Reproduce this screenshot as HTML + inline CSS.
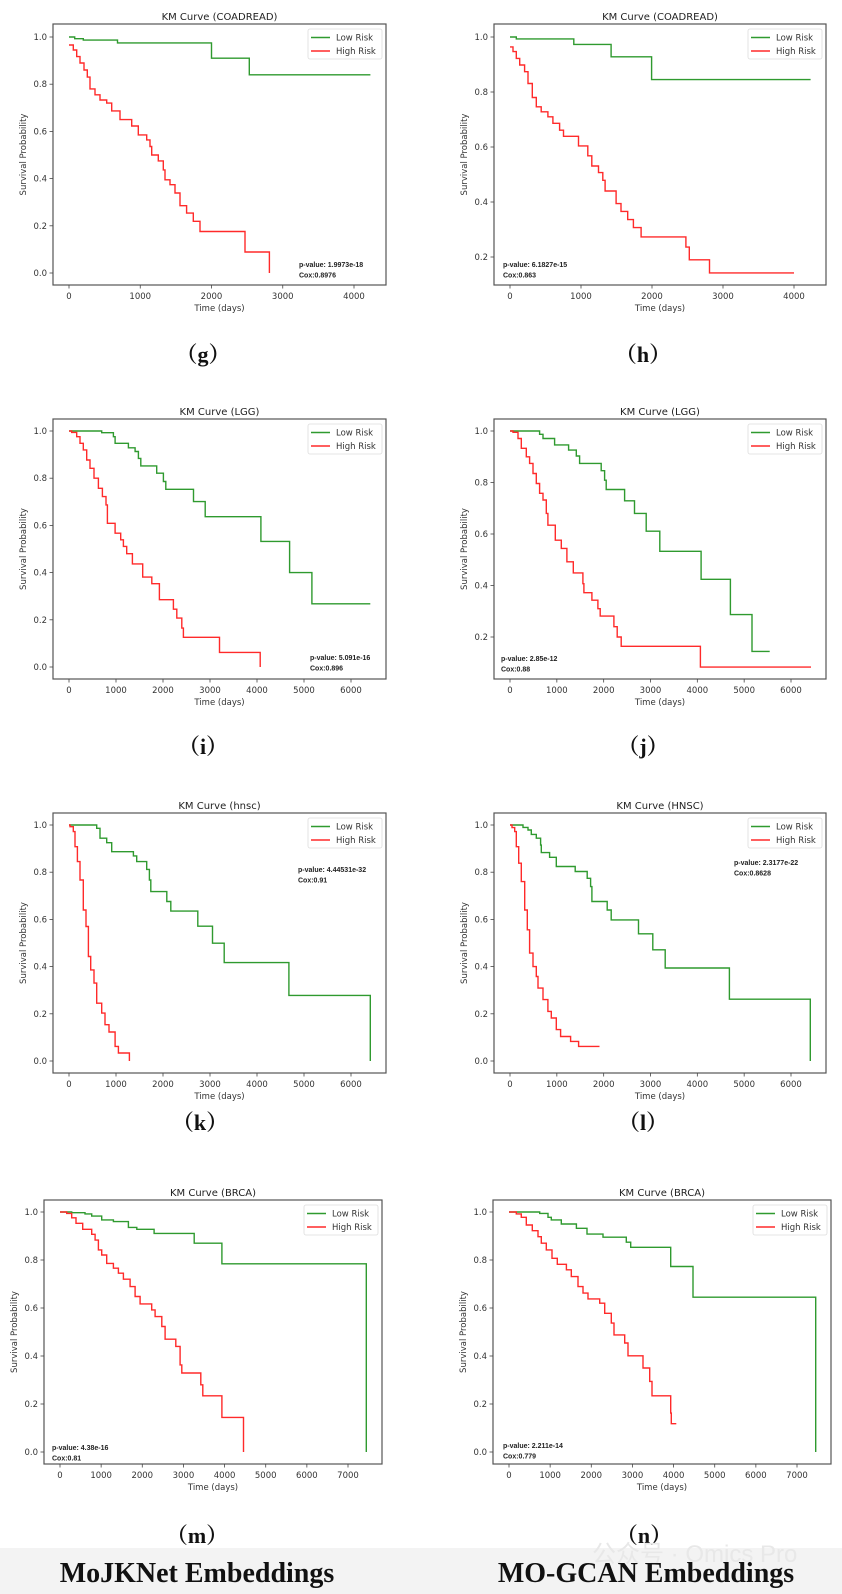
<!DOCTYPE html>
<html><head><meta charset="utf-8">
<style>
html,body{margin:0;padding:0;background:#fff;}
svg{display:block;}
</style></head>
<body>
<svg id="fig" width="842" height="1594" viewBox="0 0 842 1594" xmlns="http://www.w3.org/2000/svg">
<rect x="0" y="0" width="842" height="1594" fill="#ffffff"/>
<rect x="0" y="1548" width="842" height="46" fill="#f3f3f3"/>
<g id="panels"></g>
<text x="197" y="1582" text-anchor="middle" font-family="Liberation Serif, serif" font-weight="bold" font-size="28" fill="#111">MoJKNet Embeddings</text>
<text x="592" y="1562" font-family="Liberation Sans, Noto Sans CJK SC, sans-serif" font-size="24" fill="#e8e8e8">公众号 · Omics Pro</text>
<text x="646" y="1582" text-anchor="middle" font-family="Liberation Serif, serif" font-weight="bold" font-size="28" fill="#111">MO-GCAN Embeddings</text>
</svg>
<script>
// ---- data: step times (days) and survival values ----
const gLowT  = [0,80,200,680,2000,2530,4230];
const gLowS  = [1.0,0.993,0.987,0.975,0.91,0.84,0.84];
const gHighT = [0,61,108,154,211,257,295,365,435,529,599,716,880,973,1090,1137,1160,1254,1324,1347,1418,1488,1558,1651,1745,1839,2470,2812];
const gHighS = [0.966,0.945,0.917,0.89,0.86,0.83,0.78,0.755,0.733,0.72,0.687,0.65,0.623,0.585,0.564,0.536,0.5,0.475,0.437,0.395,0.374,0.339,0.285,0.254,0.219,0.176,0.089,0];

const hLowT  = [0,89,899,1424,1995,4234];
const hLowS  = [1.0,0.993,0.973,0.928,0.845,0.845];
const hHighT = [0,42,89,136,206,253,314,370,440,534,604,698,754,965,1096,1152,1246,1307,1340,1494,1564,1658,1738,1846,2478,2525,2810,4000];
const hHighS = [0.964,0.947,0.922,0.898,0.874,0.831,0.78,0.746,0.728,0.71,0.686,0.661,0.639,0.604,0.568,0.531,0.507,0.479,0.44,0.394,0.366,0.336,0.307,0.273,0.236,0.19,0.142,0.142];

const iLowT  = [0,696,944,980,1264,1406,1477,1527,1867,2009,2059,2648,2897,4083,4693,5169,6411];
const iLowS  = [1.0,0.993,0.976,0.948,0.929,0.913,0.884,0.852,0.821,0.786,0.753,0.701,0.637,0.532,0.4,0.268,0.268];
const iHighT = [0,57,163,234,305,376,447,532,625,710,788,816,980,1100,1157,1228,1349,1569,1761,1924,2222,2293,2400,2435,3202,4068];
const iHighS = [1.0,0.994,0.976,0.948,0.92,0.877,0.842,0.8,0.757,0.722,0.687,0.609,0.567,0.539,0.511,0.48,0.437,0.381,0.353,0.285,0.245,0.207,0.165,0.126,0.062,0];

const jLowT  = [0,633,704,953,1251,1415,1486,1948,2019,2055,2446,2659,2908,3199,4081,4706,5168,5545];
const jLowS  = [1.0,0.987,0.971,0.946,0.926,0.903,0.874,0.846,0.809,0.773,0.729,0.68,0.611,0.533,0.424,0.287,0.144,0.144];
const jHighT = [0,64,171,242,348,419,491,562,633,704,775,810,967,1095,1216,1351,1557,1578,1749,1877,1927,2218,2289,2374,4066,6427];
const jHighS = [1.0,0.995,0.971,0.933,0.9,0.874,0.835,0.796,0.758,0.732,0.68,0.634,0.576,0.544,0.492,0.449,0.407,0.372,0.343,0.31,0.281,0.24,0.2,0.164,0.083,0.083];

const kLowT  = [0,589,660,802,909,1370,1441,1654,1711,1740,2080,2166,2741,3053,3302,4679,6411];
const kLowS  = [1.0,0.986,0.944,0.925,0.887,0.869,0.845,0.812,0.767,0.718,0.676,0.635,0.571,0.499,0.417,0.278,0];
const kHighT = [0,21,92,128,178,234,305,362,412,461,532,589,696,767,852,980,1051,1285];
const kHighS = [1.0,0.993,0.972,0.908,0.845,0.767,0.64,0.57,0.443,0.386,0.33,0.245,0.203,0.154,0.123,0.062,0.034,0];

const lLowT  = [0,277,384,455,562,654,668,846,988,1393,1649,1720,1749,2076,2161,2744,3050,3313,4685,6412];
const lLowS  = [1.0,0.99,0.979,0.96,0.944,0.915,0.883,0.863,0.824,0.803,0.774,0.739,0.676,0.64,0.598,0.539,0.471,0.394,0.262,0];
const lHighT = [0,43,100,135,185,242,313,370,419,491,562,597,704,810,882,988,1081,1294,1464,1912];
const lHighS = [1.0,0.989,0.972,0.908,0.838,0.76,0.64,0.556,0.457,0.4,0.358,0.309,0.26,0.21,0.182,0.133,0.104,0.083,0.062,0.062];

const mLowT  = [0,284,608,770,1014,1298,1663,1866,2287,3261,3934,7446];
const mLowS  = [1.0,0.997,0.992,0.983,0.967,0.96,0.936,0.928,0.911,0.87,0.784,0];
const mHighT = [0,162,284,389,552,770,852,933,1014,1136,1298,1419,1541,1703,1825,1947,2230,2312,2474,2555,2815,2920,2961,3423,3472,3934,4461];
const mHighS = [1.0,0.994,0.976,0.953,0.928,0.907,0.883,0.842,0.821,0.786,0.766,0.745,0.72,0.689,0.648,0.617,0.592,0.564,0.523,0.47,0.44,0.363,0.329,0.28,0.234,0.144,0];

const nLowT  = [0,745,948,1029,1272,1637,1896,2285,2852,2957,3929,4472,7454];
const nLowS  = [1.0,0.994,0.978,0.967,0.95,0.932,0.908,0.895,0.874,0.853,0.773,0.645,0];
const nHighT = [0,178,300,421,567,705,786,907,1045,1175,1394,1515,1677,1799,1920,2204,2325,2487,2552,2811,2892,3257,3419,3475,3929,3945,4067];
const nHighS = [1.0,0.992,0.978,0.946,0.922,0.897,0.87,0.842,0.807,0.782,0.759,0.731,0.689,0.662,0.638,0.62,0.578,0.537,0.488,0.454,0.401,0.35,0.294,0.234,0.162,0.118,0.118];

const xTicks4000 = [0,1000,2000,3000,4000];
const xTicks6000 = [0,1000,2000,3000,4000,5000,6000];
const xTicks7000 = [0,1000,2000,3000,4000,5000,6000,7000];
const yTicksFull = [0,0.2,0.4,0.6,0.8,1.0];
const yTicksUpper = [0.2,0.4,0.6,0.8,1.0];

const pValues = ['1.9973e-18','6.1827e-15','5.091e-16','2.85e-12','4.44531e-32','2.3177e-22','4.38e-16','2.211e-14'];
const coxValues = ['0.8976','0.863','0.896','0.88','0.91','0.8628','0.81','0.779'];

// ---- layout (geometry) ----
const panels = [
 {id:'g',title:'KM Curve (COADREAD)',L:53,T:24,R:386,B:285,x0:69,xm:354,xmax:4000,y1:37,y0:273,xt:xTicks4000,yt:yTicksFull,low:[gLowT,gLowS],high:[gHighT,gHighS],sx:299,sy:267,lab:'g',lx:203,ly:362},
 {id:'h',title:'KM Curve (COADREAD)',L:494,T:24,R:826,B:285,x0:510,xm:794,xmax:4000,y1:37,y0:312,xt:xTicks4000,yt:yTicksUpper,low:[hLowT,hLowS],high:[hHighT,hHighS],sx:503,sy:267,lab:'h',lx:643,ly:362},
 {id:'i',title:'KM Curve (LGG)',L:53,T:419,R:386,B:679,x0:69,xm:351,xmax:6000,y1:431,y0:667,xt:xTicks6000,yt:yTicksFull,low:[iLowT,iLowS],high:[iHighT,iHighS],sx:310,sy:660,lab:'i',lx:203,ly:754},
 {id:'j',title:'KM Curve (LGG)',L:494,T:419,R:826,B:679,x0:510,xm:791,xmax:6000,y1:431,y0:688.5,xt:xTicks6000,yt:yTicksUpper,low:[jLowT,jLowS],high:[jHighT,jHighS],sx:501,sy:661,lab:'j',lx:643,ly:754},
 {id:'k',title:'KM Curve (hnsc)',L:53,T:813,R:386,B:1073,x0:69,xm:351,xmax:6000,y1:825,y0:1061,xt:xTicks6000,yt:yTicksFull,low:[kLowT,kLowS],high:[kHighT,kHighS],sx:298,sy:872,lab:'k',lx:200,ly:1130},
 {id:'l',title:'KM Curve (HNSC)',L:494,T:813,R:826,B:1073,x0:510,xm:791,xmax:6000,y1:825,y0:1061,xt:xTicks6000,yt:yTicksFull,low:[lLowT,lLowS],high:[lHighT,lHighS],sx:734,sy:865,lab:'l',lx:643,ly:1130},
 {id:'m',title:'KM Curve (BRCA)',L:44,T:1200,R:382,B:1464,x0:60,xm:348,xmax:7000,y1:1212,y0:1452,xt:xTicks7000,yt:yTicksFull,low:[mLowT,mLowS],high:[mHighT,mHighS],sx:52,sy:1450,lab:'m',lx:197,ly:1543},
 {id:'n',title:'KM Curve (BRCA)',L:493,T:1200,R:831,B:1464,x0:509,xm:797,xmax:7000,y1:1212,y0:1452,xt:xTicks7000,yt:yTicksFull,low:[nLowT,nLowS],high:[nHighT,nHighS],sx:503,sy:1448,lab:'n',lx:644,ly:1543}
];

const NS='http://www.w3.org/2000/svg';
const root=document.getElementById('panels');
function mk(tag,attrs,parent){const e=document.createElementNS(NS,tag);for(const k in attrs)e.setAttribute(k,attrs[k]);parent.appendChild(e);return e;}
const SANS='DejaVu Sans, Liberation Sans, sans-serif';

panels.forEach((p,idx)=>{
  const g=mk('g',{},root);
  
  
  const xS=t=>p.x0+t*(p.xm-p.x0)/p.xmax;
  const yS=s=>p.y0+s*(p.y1-p.y0);
  const fr=mk('rect',{x:p.L,y:p.T,width:p.R-p.L,height:p.B-p.T,fill:'none',stroke:'#555',"stroke-width":1.2},g);
  
  
  const tt=mk('text',{x:(p.L+p.R)/2,y:p.T-4,'text-anchor':'middle','font-family':SANS,'font-size':10,fill:'#222'},g);
  tt.textContent=p.title;
  
  
  p.xt.forEach(v=>{
    const x=xS(v);
    mk('line',{x1:x,x2:x,y1:p.B,y2:p.B+3.5,stroke:'#444','stroke-width':0.8},g);
    const t=mk('text',{x:x,y:p.B+14,'text-anchor':'middle','font-family':SANS,'font-size':8.5,fill:'#333'},g);
    t.textContent=String(v);
    
    
  });
  p.yt.forEach(v=>{
    const y=yS(v);
    mk('line',{x1:p.L-3.5,x2:p.L,y1:y,y2:y,stroke:'#444','stroke-width':0.8},g);
    const t=mk('text',{x:p.L-6,y:y+3,'text-anchor':'end','font-family':SANS,'font-size':8.5,fill:'#333'},g);
    t.textContent=v.toFixed(1);
    
    
  });
  const xl=mk('text',{x:(p.L+p.R)/2,y:p.B+26,'text-anchor':'middle','font-family':SANS,'font-size':8.5,fill:'#333'},g);
  xl.textContent='Time (days)';
  
  
  const yc=(p.T+p.B)/2, yx=p.L-27;
  const yl=mk('text',{x:yx,y:yc,'text-anchor':'middle','font-family':SANS,'font-size':8.5,fill:'#333',transform:'rotate(-90 '+yx+' '+yc+')'},g);
  yl.textContent='Survival Probability';
  
  
  function curve(T,S,color,name){
    let d='M'+xS(T[0]).toFixed(1)+','+yS(S[0]).toFixed(1);
    for(let i=1;i<T.length;i++){d+=' H'+xS(T[i]).toFixed(1)+' V'+yS(S[i]).toFixed(1);}
    const path=mk('path',{d:d,fill:'none',stroke:color,'stroke-width':1.4},g);
    
    
  }
  curve(p.low[0],p.low[1],'#2f9a2f','low-risk-curve');
  curve(p.high[0],p.high[1],'#ff2a2a','high-risk-curve');
  const lw=74,lh=30,lxL=p.R-lw-4,lyT=p.T+5;
  const lg=mk('g',{},g);
  
  
  mk('rect',{x:lxL,y:lyT,width:lw,height:lh,rx:2,fill:'#fff',stroke:'#ddd','stroke-width':0.8},lg);
  [['Low Risk','#2f9a2f',lyT+8.5],['High Risk','#ff2a2a',lyT+22]].forEach(e=>{
    const ent=mk('g',{},lg);
    
    
    mk('line',{x1:lxL+3,x2:lxL+22,y1:e[2],y2:e[2],stroke:e[1],'stroke-width':1.4},ent);
    const t=mk('text',{x:lxL+28,y:e[2]+3,'font-family':SANS,'font-size':8.5,fill:'#333'},ent);
    t.textContent=e[0];
  });
  const s1=mk('text',{x:p.sx,y:p.sy,'font-family':'Liberation Sans, sans-serif','font-weight':'bold','font-size':7,fill:'#222'},g);
  s1.textContent='p-value: '+pValues[idx];
  
  
  const s2=mk('text',{x:p.sx,y:p.sy+10.5,'font-family':'Liberation Sans, sans-serif','font-weight':'bold','font-size':7,fill:'#222'},g);
  s2.textContent='Cox:'+coxValues[idx];
  
  
  const lb=mk('text',{x:p.lx,y:p.ly,'text-anchor':'middle','font-family':'Liberation Serif, Noto Serif CJK SC, serif','font-weight':'bold','font-size':22,fill:'#111'},g);
  lb.textContent='（'+p.lab+'）';
  
  
});
</script>
</body></html>
